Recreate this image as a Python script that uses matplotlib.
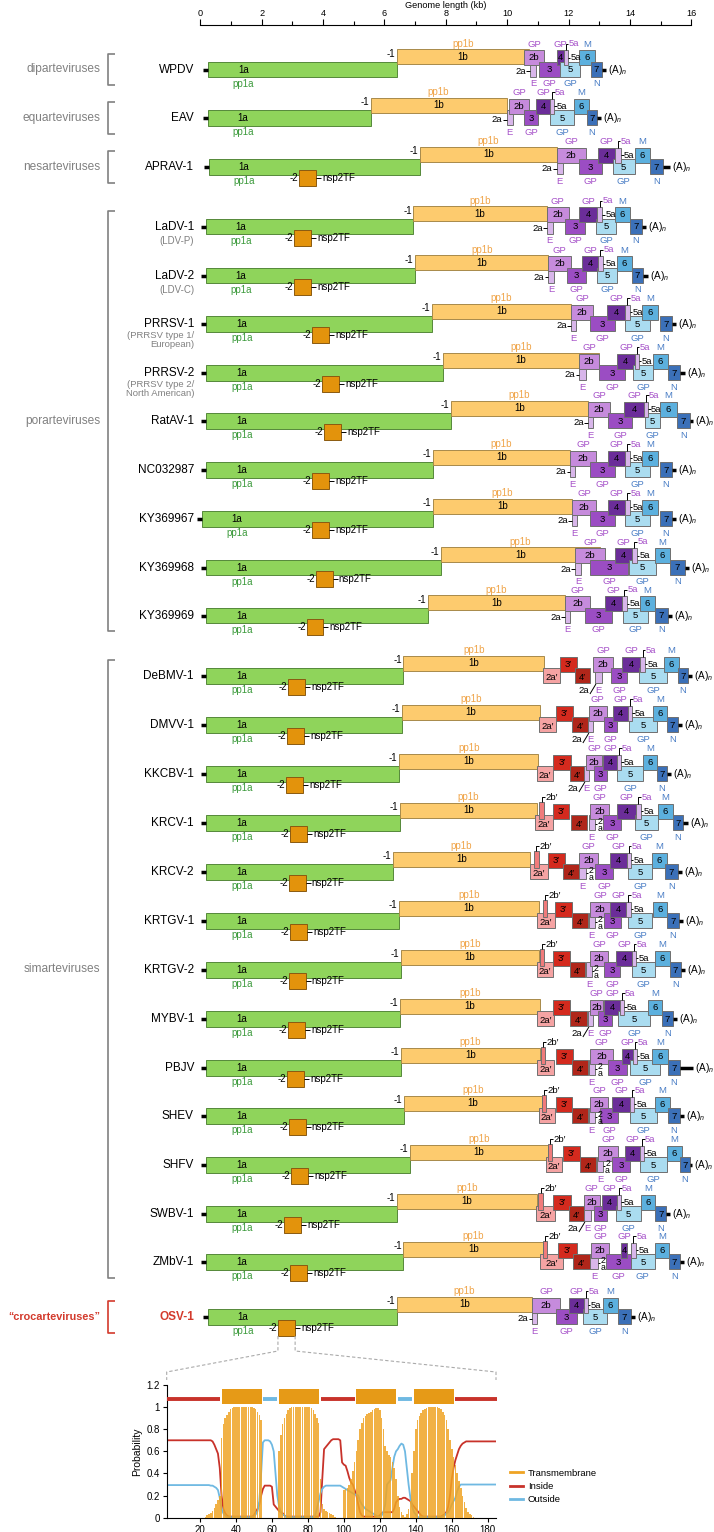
import matplotlib
matplotlib.use('Agg')
import matplotlib.pyplot as plt
from matplotlib.patches import Rectangle
from matplotlib.lines import Line2D

plt.rcParams['font.family'] = ['Liberation Sans', 'DejaVu Sans']
plt.rcParams['mathtext.fontset'] = 'custom'
plt.rcParams['mathtext.it'] = 'Liberation Sans:italic'
plt.rcParams['mathtext.rm'] = 'Liberation Sans'

# ---------------------------------------------------------------- data
viruses = ["WPDV", "EAV", "APRAV-1", "LaDV-1", "LaDV-2", "PRRSV-1", "PRRSV-2",
           "RatAV-1", "NC032987", "KY369967", "KY369968", "KY369969",
           "DeBMV-1", "DMVV-1", "KKCBV-1", "KRCV-1", "KRCV-2", "KRTGV-1",
           "KRTGV-2", "MYBV-1", "PBJV", "SHEV", "SHFV", "SWBV-1", "ZMbV-1", "OSV-1"]
subnames = {"LaDV-1": "(LDV-P)", "LaDV-2": "(LDV-C)",
            "PRRSV-1": "(PRRSV type 1/\nEuropean)",
            "PRRSV-2": "(PRRSV type 2/\nNorth American)"}
groups = ["diparteviruses", "equarteviruses", "nesarteviruses",
          "porarteviruses", "simarteviruses", "\u201ccrocarteviruses\u201d"]
group_first = [0, 1, 2, 3, 12, 25]
group_last = [0, 1, 2, 11, 24, 25]

# ORF coordinates in kb (start, end); None = ORF absent
orf1a = [(0.25, 6.40), (0.24, 5.55), (0.28, 7.16), (0.18, 6.94), (0.18, 7.00), (0.20, 7.54),
         (0.20, 7.90), (0.20, 8.16), (0.20, 7.57), (0.05, 7.57), (0.20, 7.84), (0.20, 7.42),
         (0.20, 6.62), (0.20, 6.56), (0.20, 6.48), (0.20, 6.51), (0.20, 6.27), (0.20, 6.47),
         (0.20, 6.54), (0.20, 6.51), (0.20, 6.54), (0.20, 6.64), (0.20, 6.83), (0.20, 6.40),
         (0.20, 6.62), (0.24, 6.41)]
orf1b_end = [10.71, 9.98, 11.61, 11.29, 11.34, 12.07, 13.00, 12.64, 12.05, 12.11, 13.02, 11.88,
             11.21, 11.07, 11.01, 10.96, 10.74, 11.04, 11.04, 11.07, 11.07, 11.14, 11.33,
             10.96, 11.17, 10.80]
nsp2tf = [None, None, (3.22, 3.77), (3.05, 3.61), (3.05, 3.61), (3.65, 4.20), (3.98, 4.53),
          (4.04, 4.59), (3.65, 4.20), (3.65, 4.20), (3.78, 4.32), (3.47, 4.00),
          (2.86, 3.41), (2.83, 3.38), (2.80, 3.35), (2.92, 3.48), (2.89, 3.44), (2.92, 3.48),
          (2.89, 3.44), (2.86, 3.41), (2.83, 3.38), (2.89, 3.44), (2.95, 3.51), (2.73, 3.28),
          (2.92, 3.48), (2.53, 3.09)]
orf2a_p = [None] * 12 + [(11.18, 11.72), (11.04, 11.59), (10.97, 11.49), (10.91, 11.49),
                         (10.74, 11.33), (10.97, 11.56), (10.97, 11.49), (10.97, 11.53),
                         (10.97, 11.53), (11.04, 11.56), (11.27, 11.79), (10.94, 11.56),
                         (11.07, 11.82), None]
orf2b_p = [None] * 15 + [(11.04, 11.20), (10.87, 11.04), (11.17, 11.30), (11.08, 11.21), None,
                         (11.11, 11.24), (11.14, 11.27), (11.33, 11.46), (11.01, 11.17),
                         (11.17, 11.30), None]
orf3_p = [None] * 12 + [(11.72, 12.27), (11.59, 12.14), (11.49, 12.08), (11.49, 12.01),
                        (11.33, 11.88), (11.56, 12.11), (11.49, 12.04), (11.49, 12.04),
                        (11.59, 12.14), (11.59, 12.11), (11.82, 12.37), (11.49, 12.08),
                        (11.66, 12.27), None]
orf4_p = [None] * 12 + [(12.21, 12.70), (12.11, 12.63), (12.05, 12.53), (12.08, 12.60),
                        (11.82, 12.34), (12.11, 12.63), (12.04, 12.53), (12.04, 12.60),
                        (12.11, 12.63), (12.11, 12.63), (12.37, 12.89), (12.01, 12.50),
                        (12.14, 12.70), None]
orf2a = [(10.74, 10.94), (9.98, 10.19), (11.61, 11.81), (11.29, 11.48), (11.34, 11.52),
         (12.07, 12.24), (12.35, 12.57), (12.63, 12.80), (12.05, 12.22), (12.11, 12.28),
         (12.21, 12.40), (11.88, 12.05), (12.86, 13.09), (12.63, 12.80), (12.50, 12.66),
         (12.66, 12.86), (12.34, 12.57), (12.66, 12.86), (12.57, 12.76), (12.63, 12.80),
         (12.66, 12.86), (12.66, 12.86), (12.93, 13.12), (12.50, 12.73), (12.70, 12.96),
         (10.81, 10.97)]
orf2b = [(10.55, 11.20), (10.06, 10.71), (11.61, 12.56), (11.29, 12.01), (11.34, 12.08),
         (12.07, 12.80), (12.35, 13.00), (12.63, 13.35), (12.05, 12.89), (12.11, 12.89),
         (12.21, 13.19), (11.88, 12.70), (12.80, 13.45), (12.66, 13.25), (12.57, 13.09),
         (12.70, 13.32), (12.34, 12.96), (12.70, 13.35), (12.70, 13.29), (12.70, 13.12),
         (12.70, 13.45), (12.70, 13.29), (12.96, 13.61), (12.50, 13.02), (12.73, 13.32),
         (10.81, 11.72)]
orf3 = [(11.04, 11.72), (10.55, 11.00), (12.34, 13.09), (11.88, 12.54), (11.95, 12.57),
        (12.70, 13.51), (12.99, 13.84), (13.28, 14.07), (12.70, 13.51), (12.70, 13.51),
        (12.70, 13.94), (12.53, 13.41), (13.38, 13.90), (13.15, 13.58), (12.83, 13.25),
        (13.12, 13.71), (12.86, 13.45), (13.15, 13.71), (13.15, 13.68), (12.96, 13.41),
        (13.29, 13.90), (13.02, 13.61), (13.42, 14.00), (12.83, 13.25), (13.22, 14.03),
        (11.59, 12.27)]
orf4 = [(11.62, 11.85), (10.94, 11.40), (12.96, 13.51), (12.34, 12.93), (12.44, 12.96),
        (13.25, 13.84), (13.58, 14.16), (13.81, 14.46), (13.28, 13.84), (13.28, 13.84),
        (13.51, 14.06), (13.19, 13.74), (13.74, 14.33), (13.45, 13.94), (13.12, 13.58),
        (13.58, 14.19), (13.35, 13.90), (13.35, 13.87), (13.55, 14.06), (13.15, 13.68),
        (13.74, 14.10), (13.42, 14.00), (13.84, 14.33), (13.09, 13.58), (13.71, 13.90),
        (12.01, 12.50)]
orf5a = [(11.85, 11.98), (11.40, 11.53), (13.51, 13.71), (12.93, 13.10), (12.96, 13.12),
         (13.84, 14.00), (14.16, 14.29), (14.46, 14.59), (13.84, 14.00), (13.84, 14.00),
         (14.06, 14.22), (13.74, 13.90), (14.33, 14.49), (13.94, 14.07), (13.58, 13.71),
         (14.19, 14.36), (13.90, 14.03), (13.87, 14.03), (14.06, 14.19), (13.68, 13.81),
         (14.10, 14.23), (14.00, 14.13), (14.33, 14.46), (13.58, 13.71), (14.03, 14.19),
         (12.50, 12.63)]
orf5 = [(11.72, 12.37), (11.40, 12.18), (13.44, 14.16), (12.90, 13.55), (12.93, 13.58),
        (13.84, 14.65), (14.10, 14.75), (14.49, 14.98), (13.84, 14.65), (13.84, 14.65),
        (13.98, 14.85), (13.77, 14.59), (14.30, 15.20), (13.97, 14.88), (13.58, 14.42),
        (14.16, 14.91), (13.94, 14.71), (13.94, 14.71), (14.06, 14.81), (13.61, 14.65),
        (14.00, 14.98), (14.00, 14.88), (14.33, 15.20), (13.55, 14.36), (14.03, 14.81),
        (12.47, 13.25)]
orf6 = [(12.34, 12.86), (12.18, 12.67), (14.16, 14.65), (13.51, 14.00), (13.58, 14.07),
        (14.39, 14.91), (14.75, 15.24), (14.98, 15.53), (14.39, 14.91), (14.39, 14.91),
        (14.81, 15.30), (14.33, 14.81), (15.11, 15.60), (14.75, 15.21), (14.42, 14.88),
        (14.91, 15.40), (14.71, 15.20), (14.75, 15.21), (14.81, 15.30), (14.59, 15.04),
        (14.71, 15.24), (14.81, 15.30), (15.20, 15.69), (14.36, 14.83), (14.81, 15.27),
        (13.12, 13.61)]
orf7 = [(12.73, 13.09), (12.60, 12.93), (14.65, 15.07), (14.00, 14.39), (14.07, 14.43),
        (14.97, 15.37), (15.24, 15.63), (15.53, 15.96), (14.97, 15.37), (14.97, 15.37),
        (15.30, 15.79), (14.81, 15.24), (15.57, 15.89), (15.21, 15.56), (14.88, 15.21),
        (15.40, 15.73), (15.14, 15.56), (15.21, 15.60), (15.30, 15.66), (15.04, 15.40),
        (15.24, 15.63), (15.24, 15.63), (15.63, 15.96), (14.83, 15.18), (15.27, 15.63),
        (13.61, 14.03)]
genome_end = [13.22, 13.06, 15.30, 14.52, 14.59, 15.50, 15.80, 16.05, 15.50, 15.50, 15.92,
              15.37, 16.02, 15.69, 15.34, 15.89, 15.69, 15.73, 15.79, 15.53, 16.05, 15.76,
              16.02, 15.31, 15.76, 14.16]
slash_2a = {"DeBMV-1", "DMVV-1", "KKCBV-1", "MYBV-1", "SWBV-1"}

# nsp2TF topology (OSV-1), per residue 1..185
tm_prob = [0]*20 + [0, 0, 0.01, 0.02, 0.03, 0.04, 0.06, 0.09, 0.12, 0.16,
           0.2, 0.72, 0.85, 0.9, 0.93, 0.96, 0.98, 0.99, 1, 1,
           1, 1, 1, 1, 1, 1, 1, 1, 1, 0.99,
           0.98, 0.96, 0.93, 0.88, 0, 0, 0, 0, 0, 0,
           0, 0, 0, 0.6, 0.75, 0.85, 0.9, 0.94, 0.97, 0.99,
           1, 1, 1, 1, 1, 1, 1, 1, 1, 1,
           1, 0.99, 0.97, 0.94, 0.9, 0.86, 0.35, 0.12, 0.08, 0.06,
           0.05, 0.04, 0.03, 0.02, 0.01, 0, 0, 0, 0, 0.25,
           0.26, 0.27, 0.3, 0.35, 0.42, 0.5, 0.6, 0.7, 0.8, 0.86,
           0.9, 0.92, 0.94, 0.95, 0.96, 0.97, 0.98, 0.99, 0.99, 0.97,
           0.9, 0.8, 0.65, 0.6, 0.57, 0.55, 0.5, 0.45, 0.35, 0.2,
           0.1, 0.05, 0.02, 0.01, 0.03, 0.08, 0.15, 0.4, 0.6, 0.8,
           0.88, 0.92, 0.95, 0.97, 0.98, 0.99, 1, 1, 1, 1,
           1, 1, 0.99, 0.98, 0.96, 0.93, 0.88, 0.8, 0.7, 0.62,
           0.55, 0.48, 0.4, 0.33, 0.27, 0.2, 0.14, 0.09, 0.05, 0.03,
           0.02, 0.01, 0, 0, 0, 0, 0, 0, 0, 0,
           0, 0, 0, 0, 0]
inside_prob = [0.7]*26 + [0.69, 0.66, 0.62, 0.58,
               0.45, 0.2, 0.08, 0.04, 0.02, 0.01, 0.01, 0.01, 0.01, 0.01,
               0.01, 0.01, 0.01, 0.01, 0.01, 0.01, 0.01, 0.01, 0.01, 0.02,
               0.05, 0.08, 0.12, 0.2, 0.26, 0.29, 0.29, 0.29, 0.29, 0.28,
               0.12, 0.1, 0.08, 0.06, 0.05, 0.04, 0.02, 0.01, 0.01, 0.01,
               0.01, 0.01, 0.01, 0.01, 0.01, 0.01, 0.01, 0.01, 0.01, 0.01,
               0.01, 0.01, 0.01, 0.01, 0.01, 0.01, 0.05, 0.35, 0.62, 0.64,
               0.66, 0.68, 0.7, 0.71, 0.71, 0.71, 0.71, 0.7, 0.5, 0.48,
               0.47, 0.42, 0.36, 0.32, 0.3, 0.25, 0.2, 0.12, 0.05, 0.02,
               0.01, 0.01, 0.01, 0.01, 0.01, 0.01, 0.01, 0.01, 0.01, 0.02,
               0.04, 0.05, 0.05, 0.05, 0.05, 0.05, 0.05, 0.08, 0.14, 0.16,
               0.17, 0.17, 0.18, 0.18, 0.17, 0.16, 0.15, 0.12, 0.1, 0.08,
               0.06, 0.04, 0.02, 0.01, 0.01, 0.01, 0.01, 0.01, 0.01, 0.01,
               0.01, 0.01, 0.01, 0.01, 0.02, 0.03, 0.05, 0.1, 0.2, 0.35,
               0.45, 0.52, 0.57, 0.62, 0.65, 0.67, 0.68, 0.69, 0.69, 0.69] + [0.69]*15
outside_prob = [0.295]*25 + [0.29, 0.29, 0.28, 0.27, 0.25,
                0.18, 0.08, 0.04, 0.02, 0.005, 0.005, 0.005, 0.005, 0.005, 0.005,
                0.005, 0.005, 0.005, 0.005, 0.005, 0.005, 0.005, 0.005, 0.005, 0.01,
                0.03, 0.06, 0.15, 0.4, 0.68, 0.7, 0.7, 0.7, 0.69, 0.66,
                0.6, 0.4, 0.2, 0.1, 0.05, 0.03, 0.02, 0.005, 0.005, 0.005,
                0.005, 0.005, 0.005, 0.005, 0.005, 0.005, 0.005, 0.005, 0.005, 0.005,
                0.005, 0.005, 0.005, 0.02, 0.08, 0.15, 0.22, 0.26, 0.28, 0.29,
                0.29, 0.29, 0.29, 0.29, 0.29, 0.29, 0.29, 0.29, 0.28, 0.27,
                0.26, 0.25, 0.24, 0.23, 0.22, 0.21, 0.21, 0.2, 0.15, 0.12,
                0.1, 0.08, 0.07, 0.06, 0.05, 0.04, 0.03, 0.02, 0.01, 0.005,
                0.02, 0.05, 0.12, 0.3, 0.32, 0.34, 0.45, 0.55, 0.6, 0.62,
                0.65, 0.67, 0.66, 0.6, 0.45, 0.3, 0.18, 0.1, 0.05, 0.03,
                0.005, 0.005, 0.005, 0.005, 0.005, 0.005, 0.005, 0.005, 0.005, 0.005,
                0.005, 0.005, 0.005, 0.005, 0.01, 0.02, 0.04, 0.05, 0.08, 0.12,
                0.15, 0.18, 0.24, 0.28, 0.3, 0.3, 0.3, 0.3, 0.3, 0.3] + [0.3]*15
topology = [(1.5, 31, "in"), (32.5, 54.4, "tm"), (55.3, 63, "out"), (64, 86.3, "tm"),
            (87.4, 106, "in"), (107, 129, "tm"), (130, 138, "out"), (138.8, 161, "tm"),
            (162, 185, "in")]

# ---------------------------------------------------------------- layout / style
W, H = 714, 1532
row_y = [69.5, 118, 167, 226.5, 275.5, 324, 373, 421, 470, 519, 567.5, 615.5,
         676, 725, 774, 823, 872, 921, 970, 1019, 1068, 1116, 1165, 1214, 1262, 1317]
X0, X16, AXTOP = 200.3, 691.3, 25

C = {"1a": "#8fd45b", "1b": "#fdcb6e", "nsp": "#e3930c", "2a": "#d8b6ea", "2b": "#c68bdc",
     "3": "#9b4dc3", "4": "#6b2d99", "5a": "#d8b6ea", "5": "#aadcf0", "6": "#5cb0de",
     "7": "#3b70b8", "2a'": "#f5a3a3", "2b'": "#f07b7b", "3'": "#d42a1e", "4'": "#b0261a"}
PURPLE = "#a651c9"
BLUE = "#4b7fc6"
GRAY = "#808080"
RED = "#d33a2c"

fig = plt.figure(figsize=(W / 100, H / 100), dpi=100)
ax = fig.add_axes([X0 / W, 0, (X16 - X0) / W, (H - AXTOP) / H])
ax.set_xlim(0, 16)
ax.set_ylim(H, AXTOP)
for s in ["left", "right", "bottom"]:
    ax.spines[s].set_visible(False)
ax.spines["top"].set_linewidth(0.8)
ax.xaxis.tick_top()
ax.xaxis.set_label_position("top")
ax.set_xticks(range(0, 17, 2))
ax.set_xticks(range(1, 16, 2), minor=True)
ax.tick_params(axis="x", which="major", length=4, width=0.8, labelsize=6.6, pad=1)
ax.tick_params(axis="x", which="minor", length=3, width=0.8)
ax.set_yticks([])
ax.set_xlabel("Genome length (kb)", fontsize=6.6, labelpad=0.5)

KPX = 16 / (X16 - X0)   # kb per pixel


def px2kb(px):
    return (px - X0) * KPX


def box(x0, x1, yc, lane, fc, z=2, ec="#6f6f6f"):
    t, b = lane
    ax.add_patch(Rectangle((x0, yc + t), x1 - x0, b - t, facecolor=fc, edgecolor=ec,
                           lw=0.7, zorder=z, clip_on=False))


def txt(x, y, s, ha="center", size=6.8, color="black", **kw):
    ax.text(x, y, s, ha=ha, va="center", fontsize=size, color=color, clip_on=False,
            zorder=6, **kw)


def seg(xs, ys, lw=0.7, color="black", z=5):
    ax.plot(xs, ys, color=color, lw=lw, clip_on=False, zorder=z, solid_capstyle="butt")


L1A = (-7.75, 7.75)
L1B = (-20.5, -5.5)
LNSP = (3, 19)
SUP = (-19.5, -4.5)
SLO = (-8, 7)

for i, name in enumerate(viruses):
    y = row_y[i]
    red = name == "OSV-1"
    a0, a1 = orf1a[i]
    b1 = orf1b_end[i]
    # name
    txt(px2kb(194), y, name, ha="right", size=8.5, color=RED if red else "black",
        weight="bold" if red else "normal")
    if name in subnames:
        sub = subnames[name]
        if "\n" in sub:
            txt(px2kb(194), y + 16, sub, ha="right", size=6.8, color=GRAY, linespacing=1.0)
        else:
            txt(px2kb(194), y + 14.5, sub, ha="right", size=7, color=GRAY)
    # 5' UTR and poly(A)
    seg([a0 - 5 * KPX, a0], [y, y], lw=2.5)
    seg([orf7[i][1], genome_end[i]], [y, y], lw=2.5)
    txt(genome_end[i] + 2 * KPX, y, "(A)$_n$", ha="left", size=7.2)
    # ORF1a / 1b
    box(a0, a1, y, L1A, C["1a"], z=2, ec="#55883a")
    box(a1, b1, y, L1B, C["1b"], z=3, ec="#a88a4a")
    txt(a0 + 1.15, y, "1a", size=7)
    txt(a0 + 1.15, y + 14, "pp1a", size=7, color="#3c9a3c")
    txt((a1 + b1) / 2, y - 13, "1b", size=7)
    txt((a1 + b1) / 2, y - 26, "pp1b", size=7, color="#f0a54a")
    txt(a1 - 1.5 * KPX, y - 16, "-1", ha="right", size=7)
    # nsp2TF
    if nsp2tf[i] is not None:
        n0, n1 = nsp2tf[i]
        box(n0, n1, y, LNSP, C["nsp"], z=4, ec="#8a5a10")
        txt(n0 - 1 * KPX, y + 11, "-2", ha="right", size=7)
        seg([n1, n1 + 5 * KPX], [y + 11, y + 11])
        txt(n1 + 6 * KPX, y + 11, "nsp2TF", ha="left", size=7)
    # simartevirus-specific ORFs
    if orf2a_p[i] is not None:
        s, e = orf2a_p[i]
        box(s, e, y, SLO, C["2a'"], z=4)
        txt((s + e) / 2, y + 1, "2a\u2032", size=6.8)
    if orf2b_p[i] is not None:
        s, e = orf2b_p[i]
        box(s, e, y, (-21, -4.5), C["2b'"], z=5)
        cx = (s + e) / 2
        seg([cx, cx, cx + 3 * KPX], [y - 21, y - 26, y - 26])
        txt(cx + 3.5 * KPX, y - 26, "2b\u2032", ha="left", size=6.8)
    if orf3_p[i] is not None:
        s, e = orf3_p[i]
        box(s, e, y, SUP, C["3'"], z=4)
        txt((s + e) / 2, y - 12, "3\u2032", size=6.8)
    if orf4_p[i] is not None:
        s, e = orf4_p[i]
        box(s, e, y, SLO, C["4'"], z=4)
        txt((s + e) / 2, y + 1, "4\u2032", size=6.8)
    # common structural ORFs
    s, e = orf2a[i]
    box(s, e, y, SLO, C["2a"], z=4)
    cxa = (s + e) / 2
    txt(cxa, y + 14, "E", color=PURPLE)
    if 12 <= i <= 24:
        if name in slash_2a:
            txt(s - 6 * KPX, y + 14, "2a", ha="right")
            seg([s - 5 * KPX, s + 1 * KPX], [y + 18, y + 8])
        else:
            seg([e, e + 2 * KPX], [y + 1, y + 1])
            txt(e + 2.2 * KPX, y + 2, "2\na", ha="left", size=6.3, linespacing=0.8)
    else:
        seg([s - 3.5 * KPX, s], [y + 1.5, y + 1.5])
        txt(s - 4 * KPX, y + 1.5, "2a", ha="right")
    s, e = orf2b[i]
    box(s, e, y, SUP, C["2b"], z=4)
    txt((s + e) / 2, y - 12, "2b")
    txt((s + e) / 2, y - 25.5, "GP", color=PURPLE)
    s, e = orf3[i]
    box(s, e, y, SLO, C["3"], z=4)
    txt((s + e) / 2, y, "3")
    txt((s + e) / 2, y + 14, "GP", color=PURPLE)
    s, e = orf4[i]
    box(s, e, y, SUP, C["4"], z=4)
    txt((s + e) / 2, y - 12, "4")
    txt((s + e) / 2, y - 25.5, "GP", color=PURPLE)
    s, e = orf5[i]
    box(s, e, y, SLO, C["5"], z=4)
    txt((s + e) / 2, y, "5")
    txt((s + e) / 2, y + 14, "GP", color=BLUE)
    s, e = orf5a[i]
    box(s, e, y, SUP, C["5a"], z=4)
    cx = (s + e) / 2
    seg([cx, cx, cx + 2.5 * KPX], [y - 19.5, y - 26, y - 26])
    txt(cx + 3 * KPX, y - 26, "5a", ha="left", color=PURPLE)
    seg([e, e + 2.5 * KPX], [y - 12, y - 12])
    txt(e + 3 * KPX, y - 12, "5a", ha="left")
    s, e = orf6[i]
    box(s, e, y, SUP, C["6"], z=4)
    txt((s + e) / 2, y - 12, "6")
    txt((s + e) / 2, y - 25.5, "M", color=BLUE)
    s, e = orf7[i]
    box(s, e, y, SLO, C["7"], z=4)
    txt((s + e) / 2, y, "7")
    txt((s + e) / 2, y + 14, "N", color=BLUE)

# group brackets
for g, f, l in zip(groups, group_first, group_last):
    top = row_y[f] - 16
    bot = row_y[l] + 15.5
    croc = "croc" in g
    col = RED if croc else GRAY
    xb, xe = px2kb(107.5), px2kb(115)
    seg([xe, xb, xb, xe], [top, top, bot, bot], lw=1.2, color=col)
    txt(px2kb(100), (top + bot) / 2, g, ha="right", size=7.8 if croc else 8.6, color=col,
        weight="bold" if croc else "normal")

# ---------------------------------------------------------------- inset (nsp2TF topology)
IL, IR, IT, IB = 166.7, 496.0, 1385.0, 1517.7
ax2 = fig.add_axes([IL / W, (H - IB) / H, (IR - IL) / W, (IB - IT) / H])
res = list(range(1, len(tm_prob) + 1))
ax2.plot(res, inside_prob, color="#c8322a", lw=1.3, zorder=2)
ax2.plot(res, outside_prob, color="#6fb9e2", lw=1.3, zorder=2)
ax2.bar(res, tm_prob, width=0.85, color="#efa424", alpha=0.85, zorder=3, linewidth=0)
for s0, s1, kind in topology:
    if kind == "tm":
        ax2.add_patch(Rectangle((s0, 1.03), s1 - s0, 0.13, facecolor="#e69a17",
                                edgecolor="none", zorder=4, clip_on=False))
    else:
        ax2.plot([s0, s1], [1.073, 1.073], lw=2.8,
                 color="#c8322a" if kind == "in" else "#6fb9e2",
                 solid_capstyle="butt", zorder=4, clip_on=False)
ax2.set_xlim(1.5, 184.6)
ax2.set_ylim(0, 1.2)
ax2.set_xticks(range(20, 181, 20))
ax2.set_yticks([0, 0.2, 0.4, 0.6, 0.8, 1.0, 1.2])
ax2.set_yticklabels(["0", "0.2", "0.4", "0.6", "0.8", "1", "1.2"])
ax2.spines["top"].set_visible(False)
ax2.spines["right"].set_visible(False)
ax2.tick_params(labelsize=7, length=3, width=0.8, pad=2)
ax2.set_ylabel("Probability", fontsize=7.5, labelpad=3)
handles = [Line2D([], [], color="#efa424", lw=2), Line2D([], [], color="#c8322a", lw=2),
           Line2D([], [], color="#6fb9e2", lw=2)]
fig.legend(handles, ["Transmembrane", "Inside", "Outside"], loc="upper left",
           bbox_to_anchor=(506 / W, 1 - 1465 / H), frameon=False, fontsize=6.8,
           handlelength=1.4, handletextpad=0.5, labelspacing=0.45, borderaxespad=0)

# dashed zoom guides from OSV-1 nsp2TF box to inset
n0, n1 = nsp2tf[-1]
xl = X0 + n0 / KPX
xr = X0 + n1 / KPX
ytop = row_y[-1] + 19
for xs, ys in [([xl, xl, IL, IL], [ytop, 1351, 1372, 1380]),
               ([xr, xr, IR, IR], [ytop, 1351, 1372, 1380])]:
    fig.add_artist(Line2D([x / W for x in xs], [1 - v / H for v in ys],
                          transform=fig.transFigure, color="#aaaaaa", lw=0.8,
                          dashes=(3, 2)))

fig.savefig("out.png", dpi=100)
